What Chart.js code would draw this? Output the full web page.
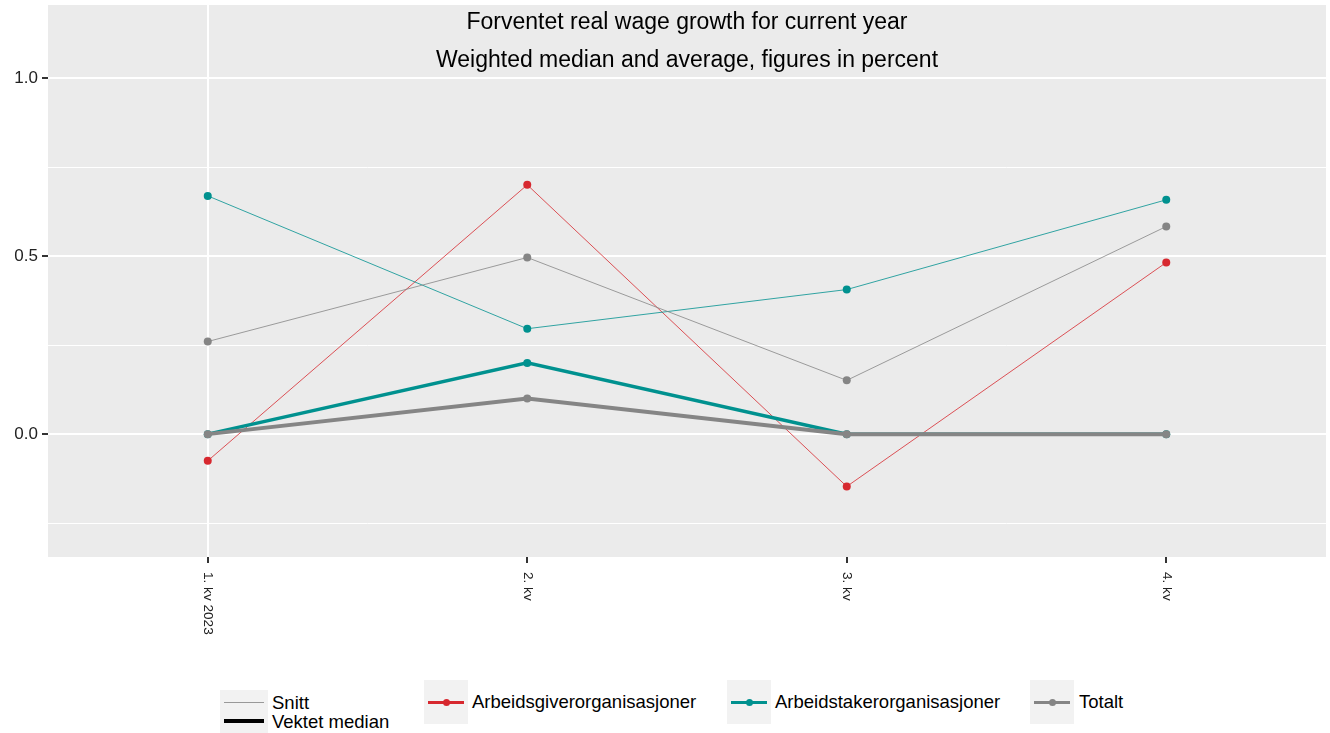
<!DOCTYPE html>
<html>
<head>
<meta charset="utf-8">
<script src="https://cdn.jsdelivr.net/npm/chart.js@4.4.0/dist/chart.umd.min.js"></script>
<style>
body { margin: 0; background: #fff; font-family: "Liberation Sans", Arial, sans-serif; }
#wrap { position: relative; width: 1330px; height: 733px; }
#box { position: absolute; left: 0; top: 0; width: 1330px; height: 672px; }
.key { position: absolute; background: #f2f2f2; }
.ln { position: absolute; left: 4px; right: 4px; }
.dot { position: absolute; width: 7px; height: 7px; border-radius: 50%; }
.lbl { position: absolute; font-size: 18.5px; color: #000; white-space: nowrap; line-height: 20px; }
</style>
</head>
<body>
<div id="wrap">
  <div id="box"><canvas id="lineChartDiv"></canvas></div>

  <div class="key" style="left:220px;top:690px;width:48px;height:43px;">
    <div class="ln" style="top:12px;height:1px;background:#999;"></div>
    <div class="ln" style="top:29px;height:4px;background:#000;"></div>
  </div>
  <div class="lbl" style="left:272px;top:693px;">Snitt</div>
  <div class="lbl" style="left:272px;top:712px;">Vektet median</div>

  <div class="key" style="left:424px;top:680px;width:44px;height:44px;">
    <div class="ln" style="top:21px;height:3px;background:#d7282f;"></div>
    <div class="dot" style="left:19px;top:19px;background:#d7282f;"></div>
  </div>
  <div class="lbl" style="left:472px;top:692px;">Arbeidsgiverorganisasjoner</div>

  <div class="key" style="left:727px;top:680px;width:44px;height:44px;">
    <div class="ln" style="top:21px;height:3px;background:#00918f;"></div>
    <div class="dot" style="left:19px;top:19px;background:#00918f;"></div>
  </div>
  <div class="lbl" style="left:775px;top:692px;">Arbeidstakerorganisasjoner</div>

  <div class="key" style="left:1030px;top:680px;width:44px;height:44px;">
    <div class="ln" style="top:21px;height:3px;background:#858585;"></div>
    <div class="dot" style="left:19px;top:19px;background:#858585;"></div>
  </div>
  <div class="lbl" style="left:1079px;top:692px;">Totalt</div>
</div>

<script>
var quarters = ["1. kv 2023", "2. kv", "3. kv", "4. kv"];
var titleLines = ["Forventet real wage growth for current year", "Weighted median and average, figures in percent"];
var yTicks = [-0.25, 0, 0.25, 0.5, 0.75, 1];

// Snitt (average)
var arbeidsgiverSnitt = [-0.075, 0.70, -0.147, 0.482];
var arbeidstakerSnitt = [0.669, 0.296, 0.406, 0.658];
var totaltSnitt = [0.26, 0.496, 0.151, 0.583];
// Vektet median
var arbeidstakerMedian = [0, 0.2, 0, 0];
var totaltMedian = [0, 0.1, 0, 0];

var red = '#d7282f', teal = '#00918f', grey = '#858585';

function series(data, color, width) {
	return {
		data: data,
		borderColor: color,
		backgroundColor: color,
		pointBackgroundColor: color,
		pointBorderColor: color,
		borderWidth: width,
		pointRadius: 4,
		pointBorderWidth: 0,
		lineTension: 0,
		fill: false
	};
}

function isMajor(v) {
	return Math.abs(v * 2 - Math.round(v * 2)) < 1e-6;
}

var panelPlugin = {
	id: 'panel',
	beforeDraw: function(chart) {
		var a = chart.chartArea, ctx = chart.ctx;
		ctx.save();
		ctx.fillStyle = '#ebebeb';
		ctx.fillRect(a.left, a.top, a.right - a.left, a.bottom - a.top);
		ctx.restore();
	},
	afterDraw: function(chart) {
		var a = chart.chartArea, ctx = chart.ctx;
		var cx = (a.left + a.right) / 2;
		ctx.save();
		ctx.fillStyle = '#000';
		ctx.font = '23px "Liberation Sans", Arial, sans-serif';
		ctx.textAlign = 'center';
		ctx.textBaseline = 'middle';
		ctx.fillText(titleLines[0], cx, 23);
		ctx.fillText(titleLines[1], cx, 61);
		// x labels, rotated to read top to bottom
		var xs = chart.scales.x;
		ctx.font = '13.6px "Liberation Sans", Arial, sans-serif';
		ctx.fillStyle = '#222';
		ctx.textAlign = 'left';
		for (var i = 0; i < quarters.length; i++) {
			ctx.save();
			ctx.translate(xs.getPixelForTick(i), a.bottom + 15);
			ctx.rotate(Math.PI / 2);
			ctx.fillText(quarters[i], 0, 0);
			ctx.restore();
		}
		ctx.restore();
	}
};

var lineChart = new Chart(document.getElementById('lineChartDiv'), {
	type: 'line',
	data: {
		labels: quarters,
		datasets: [
			series(totaltMedian, grey, 4),
			series(arbeidstakerMedian, teal, 3.5),
			series(totaltSnitt, grey, 0.8),
			series(arbeidstakerSnitt, teal, 0.8),
			series(arbeidsgiverSnitt, red, 0.8)
		]
	},
	options: {
		responsive: true,
		maintainAspectRatio: false,
		animation: false,
		layout: { padding: { left: 0, right: 2, top: 5, bottom: 0 } },
		plugins: {
			legend: { display: false },
			title: { display: false },
			tooltip: { enabled: false }
		},
		scales: {
			x: {
				type: 'category',
				offset: true,
				border: { display: false },
				grid: {
					offset: false,
					color: function(c) { return c.index === 0 ? '#ffffff' : 'rgba(0,0,0,0)'; },
					lineWidth: 2,
					tickColor: '#333',
					tickLength: 6,
					drawOnChartArea: true
				},
				ticks: { display: false },
				afterFit: function(scale) { scale.height = 115; scale.paddingLeft = 0; scale.paddingRight = 0; }
			},
			y: {
				min: -0.345,
				max: 1.205,
				border: { display: false },
				afterBuildTicks: function(scale) {
					scale.ticks = yTicks.map(function(v) { return { value: v }; });
				},
				grid: {
					color: '#ffffff',
					lineWidth: function(c) { return (c.tick && isMajor(c.tick.value)) ? 2 : 1; },
					tickColor: function(c) { return (c.tick && isMajor(c.tick.value)) ? '#333' : 'rgba(0,0,0,0)'; },
					tickLength: 6
				},
				ticks: {
					autoSkip: false,
					color: '#222',
					padding: 4,
					font: { size: 17, family: '"Liberation Sans", Arial, sans-serif' },
					callback: function(v) {
						return isMajor(v) ? v.toFixed(1) : '';
					}
				},
				afterFit: function(scale) { scale.width = 48; scale.paddingTop = 0; scale.paddingBottom = 0; }
			}
		}
	},
	plugins: [panelPlugin]
});
</script>
</body>
</html>
